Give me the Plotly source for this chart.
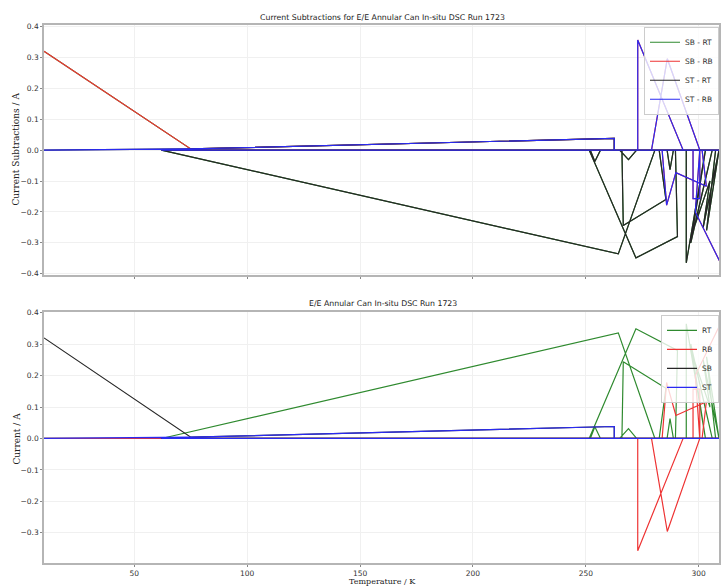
import plotly.graph_objects as go

# Time-ordered measurements (temperature K, currents A)
temperature = [10.0, 75.0, 262.6, 262.6, 62.0, 264.4, 280.6, 251.5, 272.2, 290.6,
               289.7, 266.0, 266.6, 285.5, 282.5, 265.0, 268.9, 272.5, 252.0, 254.0,
               256.5, 273.0, 273.0, 293.1, 279.1, 286.1, 300.5, 283.8, 285.8, 289.9,
               303.4, 301.5, 286.0, 287.3, 288.8, 294.5, 294.5, 303.0, 296.5, 306.0,
               298.0, 305.0, 302.0, 309.0, 303.5, 307.5, 297.5, 297.5, 300.5, 300.5,
               298.5, 312.0]
RT = [0.0, 0.0, 0.0, 0.0, 0.0, 0.336, 0.0, 0.0, 0.349, 0.280,
      0.0, 0.0, 0.244, 0.160, 0.0, 0.0, 0.031, 0.0, 0.0, 0.037,
      0.0, 0.0, 0.0, 0.0, 0.0, 0.0, 0.0, 0.0, 0.0, 0.0,
      0.0, 0.0, 0.0, 0.063, 0.0, 0.0, 0.365, 0.0, 0.30, 0.0,
      0.25, 0.10, 0.25, 0.0, 0.26, 0.0, 0.0, 0.0, 0.0, 0.0,
      0.0, 0.0]
RB = [0.0, 0.0, 0.0, 0.0, 0.0, 0.0, 0.0, 0.0, 0.0, 0.0,
      0.0, 0.0, 0.0, 0.0, 0.0, 0.0, 0.0, 0.0, 0.0, 0.0,
      0.0, 0.0, -0.357, 0.0, 0.0, -0.296, 0.0, 0.0, 0.178, 0.073,
      0.117, 0.0, 0.0, 0.0, 0.0, 0.0, 0.0, 0.0, 0.0, 0.0,
      0.0, 0.0, 0.0, 0.0, 0.0, 0.0, 0.0, 0.157, 0.157, 0.0,
      0.20, 0.40]
ST = [0.0, 0.004, 0.038, 0.0] + [0.0] * 48
SB = [0.32, 0.004, 0.038, 0.0] + [0.0] * 48

x_ticks = [50, 100, 150, 200, 250, 300]

def diff(a, b):
    return [p - q for p, q in zip(a, b)]

C_GREEN, C_RED, C_BLACK, C_BLUE = "#2f8a2f", "#ee3333", "#262626", "#2a2af2"

fig = go.Figure()
top = [("SB - RT", diff(SB, RT), C_GREEN), ("SB - RB", diff(SB, RB), C_RED),
       ("ST - RT", diff(ST, RT), C_BLACK), ("ST - RB", diff(ST, RB), C_BLUE)]
bottom = [("RT", RT, C_GREEN), ("RB", RB, C_RED), ("SB", SB, C_BLACK), ("ST", ST, C_BLUE)]

for name, vals, col in top:
    fig.add_trace(go.Scatter(x=temperature, y=vals, mode="lines", name=name,
                             line=dict(color=col, width=1.2),
                             xaxis="x", yaxis="y", legend="legend"))
for name, vals, col in bottom:
    fig.add_trace(go.Scatter(x=temperature, y=vals, mode="lines", name=name,
                             line=dict(color=col, width=1.2),
                             xaxis="x2", yaxis="y2", legend="legend2"))

H = 588.0
PW = 677.0
def dom(top_px, bot_px):
    return [1 - bot_px / H, 1 - top_px / H]

axis_common = dict(showline=True, linecolor="#b5b5b5", linewidth=1.5, mirror=True,
                   ticks="outside", ticklen=2, tickcolor="#888", showgrid=True,
                   gridcolor="#f0f0f0", gridwidth=0.8, zeroline=False,
                   tickfont=dict(family="DejaVu Sans", size=7.5, color="#333"))

legend_common = dict(x=1, xanchor="right", yanchor="top",
                     bgcolor="rgba(255,255,255,0.8)", bordercolor="#cccccc", borderwidth=1,
                     font=dict(family="DejaVu Sans", size=7.5, color="#333"),
                     tracegroupgap=0, itemwidth=30)

def ann(text, xp, yp, size, family="DejaVu Sans", angle=0):
    return dict(text=text, x=(xp - 44) / PW, y=1 - yp / H, xref="paper", yref="paper",
                xanchor="center", yanchor="middle", showarrow=False, textangle=angle,
                font=dict(family=family, size=size, color="#222"))

fig.update_layout(
    width=721, height=588, paper_bgcolor="white", plot_bgcolor="white",
    margin=dict(l=44, r=0, t=0, b=0),
    xaxis=dict(domain=[0, 1], range=[10, 309], anchor="y", tickvals=x_ticks,
               showticklabels=False, **axis_common),
    yaxis=dict(domain=dom(22, 275), range=[-0.405, 0.406], anchor="x",
               tickvals=[-0.4, -0.3, -0.2, -0.1, 0.0, 0.1, 0.2, 0.3, 0.4],
               tickformat=".1f", **axis_common),
    xaxis2=dict(domain=[0, 1], range=[10, 309], anchor="y2", tickvals=x_ticks,
                **axis_common),
    yaxis2=dict(domain=dom(312, 566), range=[-0.397, 0.403], anchor="x2",
                tickvals=[-0.3, -0.2, -0.1, 0.0, 0.1, 0.2, 0.3, 0.4],
                tickformat=".1f", **axis_common),
    legend=dict(y=1 - 24 / H, **legend_common),
    legend2=dict(y=1 - 315 / H, **legend_common),
    annotations=[
        ann("Current Subtractions for E/E Annular Can In-situ DSC Run 1723", 384, 15, 7.8),
        ann("E/E Annular Can In-situ DSC Run 1723", 384, 304, 7.8),
        ann("Temperature / K", 384, 584, 8, "DejaVu Serif"),
        ann("Current Subtractions / A", 16, 148, 9, "DejaVu Serif", -90),
        ann("Current / A", 16, 440, 9, "DejaVu Serif", -90),
    ],
)

fig.write_html("out.html")
